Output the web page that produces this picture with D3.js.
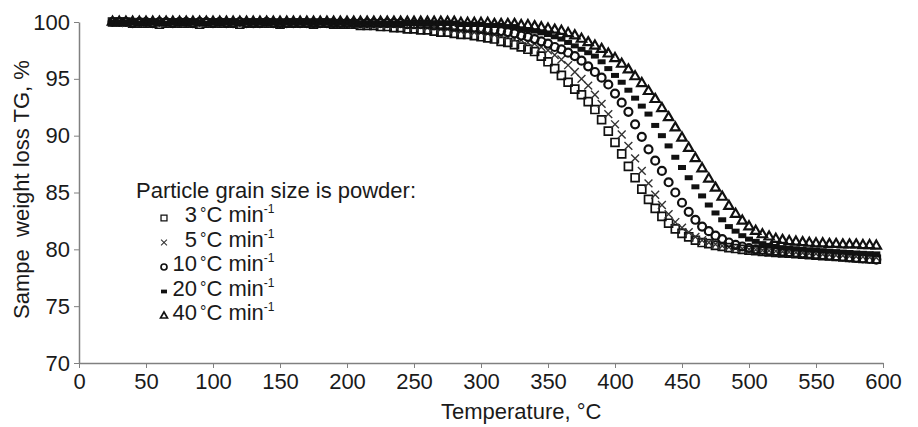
<!DOCTYPE html>
<html>
<head>
<meta charset="utf-8">
<script src="https://cdn.jsdelivr.net/npm/d3@7"></script>
<style>
  body { margin: 0; background: #fff; }
  text { font-family: "Liberation Sans", Arial, sans-serif; fill: #1a1a1a; }
</style>
</head>
<body>
<svg id="chart"></svg>
<script>
// temperature grid, deg C
const temps = [
  25, 30, 35, 40, 45, 50, 55, 60, 65, 70, 75,
  80, 85, 90, 95, 100, 105, 110, 115, 120, 125,
  130, 135, 140, 145, 150, 155, 160, 165, 170, 175,
  180, 185, 190, 195, 200, 205, 210, 215, 220, 225,
  230, 235, 240, 245, 250, 255, 260, 265, 270, 275,
  280, 285, 290, 295, 300, 305, 310, 315, 320, 325,
  330, 335, 340, 345, 350, 355, 360, 365, 370, 375,
  380, 385, 390, 395, 400, 405, 410, 415, 420, 425,
  430, 435, 440, 445, 450, 455, 460, 465, 470, 475,
  480, 485, 490, 495, 500, 505, 510, 515, 520, 525,
  530, 535, 540, 545, 550, 555, 560, 565, 570, 575,
  580, 585, 590, 595
];

// weight, % for each heating rate
const tg3 = [
  100.0, 100.0, 100.0, 99.9, 99.9, 99.9, 99.9, 99.8, 99.9, 99.9, 99.9,
  99.9, 99.9, 99.8, 99.9, 99.9, 99.9, 99.9, 99.9, 99.8, 99.9,
  99.9, 99.9, 99.9, 99.9, 99.8, 99.9, 99.9, 99.9, 99.9, 99.8,
  99.9, 99.9, 99.8, 99.8, 99.8, 99.8, 99.7, 99.7, 99.7, 99.6,
  99.6, 99.5, 99.5, 99.4, 99.4, 99.3, 99.3, 99.2, 99.1, 99.1,
  99.0, 98.9, 98.9, 98.8, 98.7, 98.6, 98.5, 98.3, 98.2, 98.0,
  97.8, 97.6, 97.4, 97.0, 96.5, 95.9, 95.3, 94.7, 94.1, 93.6,
  93.0, 92.3, 91.4, 90.4, 89.4, 88.4, 87.3, 86.3, 85.3, 84.4,
  83.6, 82.9, 82.3, 81.8, 81.4, 81.1, 80.8, 80.6, 80.5, 80.35,
  80.25, 80.15, 80.07, 80.0, 79.93, 79.87, 79.82, 79.77, 79.73, 79.69,
  79.65, 79.61, 79.57, 79.53, 79.49, 79.45, 79.41, 79.37, 79.33, 79.29,
  79.25, 79.21, 79.17, 79.13
];
const tg5 = [
  100.0, 100.0, 99.9, 99.9, 100.0, 99.9, 99.9, 99.9, 99.9, 99.9, 99.9,
  99.9, 99.9, 99.9, 99.9, 99.9, 99.9, 99.9, 99.9, 99.9, 99.9,
  99.9, 99.9, 99.9, 99.9, 99.9, 99.9, 99.9, 99.9, 99.9, 99.9,
  99.9, 99.9, 99.9, 99.9, 99.9, 99.8, 99.8, 99.8, 99.8, 99.8,
  99.7, 99.7, 99.7, 99.6, 99.6, 99.6, 99.5, 99.5, 99.4, 99.4,
  99.3, 99.2, 99.2, 99.1, 99.1, 99.0, 98.9, 98.8, 98.7, 98.5,
  98.4, 98.2, 98.1, 97.8, 97.5, 97.1, 96.7, 96.2, 95.6, 95.0,
  94.4, 93.6, 92.8, 91.9, 91.0, 90.1, 89.1, 88.0, 86.9, 85.8,
  84.8, 83.9, 83.1, 82.4, 81.9, 81.5, 81.1, 80.8, 80.6, 80.45,
  80.3, 80.2, 80.1, 80.05, 80.0, 79.96, 79.92, 79.88, 79.84, 79.8,
  79.76, 79.72, 79.68, 79.64, 79.6, 79.56, 79.52, 79.48, 79.44, 79.4,
  79.36, 79.33, 79.3, 79.27
];
const tg10 = [
  100.0, 100.0, 100.0, 99.9, 100.0, 100.0, 99.9, 100.0, 100.0, 99.9, 100.0,
  100.0, 99.9, 100.0, 100.0, 99.9, 100.0, 99.9, 99.9, 100.0, 99.9,
  99.9, 99.9, 100.0, 99.9, 99.9, 99.9, 99.9, 99.9, 99.9, 99.9,
  99.9, 99.9, 99.9, 99.9, 99.9, 99.9, 99.9, 99.9, 99.9, 99.9,
  99.9, 99.9, 99.9, 99.8, 99.8, 99.8, 99.8, 99.7, 99.7, 99.7,
  99.6, 99.6, 99.5, 99.5, 99.4, 99.3, 99.3, 99.2, 99.1, 99.0,
  98.8, 98.7, 98.5, 98.3, 98.1, 97.8, 97.6, 97.3, 97.0, 96.6,
  96.1, 95.6, 95.1, 94.5, 93.7, 92.9, 92.1, 91.0, 89.9, 88.8,
  87.8, 86.9, 85.9, 85.0, 84.1, 83.3, 82.6, 82.0, 81.6, 81.2,
  80.9, 80.6, 80.4, 80.25, 80.1, 80.0, 79.95, 79.9, 79.85, 79.8,
  79.75, 79.7, 79.65, 79.6, 79.55, 79.5, 79.45, 79.4, 79.35, 79.3,
  79.25, 79.2, 79.15, 79.1
];
const tg20 = [
  100.0, 100.0, 100.0, 100.0, 99.9, 100.0, 100.0, 100.0, 99.9, 100.0, 100.0,
  100.0, 100.0, 100.0, 99.9, 100.0, 100.0, 100.0, 100.0, 99.9, 100.0,
  100.0, 100.0, 100.0, 100.0, 99.9, 100.0, 100.0, 100.0, 100.0, 99.9,
  100.0, 100.0, 99.9, 100.0, 99.9, 99.9, 99.9, 99.9, 99.9, 99.9,
  99.9, 99.9, 99.9, 99.9, 99.9, 99.9, 99.9, 99.9, 99.9, 99.9,
  99.9, 99.8, 99.8, 99.8, 99.8, 99.7, 99.7, 99.7, 99.6, 99.6,
  99.4, 99.3, 99.2, 99.05, 98.9, 98.7, 98.5, 98.2, 97.9, 97.6,
  97.3, 97.0, 96.5, 95.9, 95.3, 94.7, 94.0, 93.3, 92.6, 91.9,
  90.9, 90.0, 89.1, 88.1, 87.2, 86.3, 85.5, 84.7, 83.9, 83.2,
  82.6, 82.0, 81.6, 81.2, 80.9, 80.7, 80.5, 80.35, 80.25, 80.15,
  80.1, 80.05, 80.0, 79.96, 79.92, 79.88, 79.84, 79.8, 79.76, 79.72,
  79.68, 79.65, 79.62, 79.6
];
const tg40 = [
  100.0, 100.0, 100.0, 100.0, 100.0, 100.0, 100.0, 100.0, 100.0, 100.0, 100.0,
  100.0, 100.0, 100.0, 100.0, 100.0, 100.0, 100.0, 100.0, 100.0, 100.0,
  100.0, 100.0, 100.0, 100.0, 100.0, 100.0, 100.0, 100.0, 100.0, 100.0,
  100.0, 100.0, 100.0, 100.0, 100.0, 100.0, 100.0, 100.0, 100.0, 100.0,
  100.0, 100.0, 100.0, 100.0, 100.0, 100.0, 100.0, 100.0, 100.0, 100.0,
  100.0, 99.9, 99.9, 99.9, 99.9, 99.9, 99.8, 99.8, 99.8, 99.8,
  99.7, 99.7, 99.6, 99.5, 99.4, 99.3, 99.2, 99.0, 98.8, 98.5,
  98.2, 97.9, 97.6, 97.2, 96.8, 96.3, 95.8, 95.2, 94.6, 93.9,
  93.2, 92.4, 91.6, 90.7, 89.8, 88.9, 88.0, 87.1, 86.2, 85.4,
  84.6, 83.8, 83.1, 82.5, 82.0, 81.6, 81.3, 81.1, 80.9, 80.8,
  80.7, 80.65, 80.6, 80.55, 80.5, 80.5, 80.45, 80.45, 80.4, 80.4,
  80.4, 80.35, 80.35, 80.3
];

const rateLabels = ["3", "5", "10", "20", "40"];
const xTicks = [0, 50, 100, 150, 200, 250, 300, 350, 400, 450, 500, 550, 600];
const yTicks = [70, 75, 80, 85, 90, 95, 100];

const width = 918, height = 427;
const margin = { left: 79, right: 35, top: 22, bottom: 64 };
const fontSize = 22;

const svg = d3.select("#chart")
  .attr("width", width)
  .attr("height", height);

const x = d3.scaleLinear().domain([0, 600]).range([margin.left, width - margin.right]);
const y = d3.scaleLinear().domain([70, 100]).range([height - margin.bottom, margin.top]);

// axes
const xAxis = svg.append("g")
  .attr("transform", `translate(0,${y(70)})`)
  .call(d3.axisBottom(x).tickValues(xTicks).tickSize(5).tickPadding(5).tickSizeOuter(0));
const yAxis = svg.append("g")
  .attr("transform", `translate(${x(0)},0)`)
  .call(d3.axisLeft(y).tickValues(yTicks).tickSize(5).tickPadding(4).tickSizeOuter(0));

[xAxis, yAxis].forEach(a => {
  a.select(".domain").attr("stroke", "#808080").attr("stroke-width", 1.5);
  a.selectAll(".tick line").attr("stroke", "#808080").attr("stroke-width", 1);
  a.selectAll(".tick text")
    .attr("font-size", fontSize)
    .attr("font-family", "Liberation Sans, Arial, sans-serif")
    .attr("fill", "#1a1a1a");
});

// axis titles
svg.append("text")
  .attr("x", x(330))
  .attr("y", 419)
  .attr("text-anchor", "middle")
  .attr("font-size", fontSize)
  .text("Temperature, °C");

svg.append("text")
  .attr("transform", `translate(29,${y(85) - 3}) rotate(-90)`)
  .attr("text-anchor", "middle")
  .attr("font-size", fontSize)
  .style("white-space", "pre")
  .text("Sampe  weight loss TG, %");

// marker drawing per series
const sym = d3.symbol();
const markers = [
  { data: tg3, draw: g => g.append("path").attr("d", sym.type(d3.symbolSquare2).size(80)())
      .attr("fill", "none").attr("stroke", "#111").attr("stroke-width", 1.7) },
  { data: tg5, draw: g => g.append("path").attr("d", sym.type(d3.symbolTimes).size(42)())
      .attr("fill", "none").attr("stroke", "#333").attr("stroke-width", 1.4) },
  { data: tg10, draw: g => g.append("path").attr("d", sym.type(d3.symbolCircle).size(50)())
      .attr("fill", "none").attr("stroke", "#111").attr("stroke-width", 2.2) },
  { data: tg20, draw: g => g.append("rect").attr("x", -4).attr("y", -2.5).attr("width", 8).attr("height", 5)
      .attr("fill", "#111") },
  { data: tg40, draw: g => g.append("path").attr("d", sym.type(d3.symbolTriangle2).size(62)())
      .attr("fill", "none").attr("stroke", "#111").attr("stroke-width", 2.2) }
];

markers.forEach(m => {
  const pts = svg.append("g").selectAll("g")
    .data(temps.map((t, i) => [t, m.data[i]]))
    .enter()
    .append("g")
    .attr("transform", d => `translate(${x(d[0])},${y(d[1])})`);
  m.draw(pts);
});

// legend
const legend = svg.append("g");
legend.append("text")
  .attr("x", 136)
  .attr("y", 198)
  .attr("font-size", fontSize)
  .text("Particle grain size is powder:");

const rows = legend.selectAll(".row")
  .data(rateLabels)
  .enter()
  .append("g")
  .attr("class", "row")
  .attr("transform", (d, i) => `translate(0,${222 + i * 24.5})`);

rows.each(function (d, i) {
  const g = d3.select(this).append("g").attr("transform", "translate(164,-4)");
  markers[i].draw(g);
  g.selectAll("path, rect").attr("transform", "scale(0.75)");
});

rows.append("text")
  .attr("x", 197)
  .attr("text-anchor", "end")
  .attr("font-size", fontSize)
  .text(d => d);

const unit = rows.append("text")
  .attr("x", 200)
  .attr("font-size", fontSize);
unit.append("tspan").attr("font-size", 16).attr("dy", -3).text("°");
unit.append("tspan").attr("dy", 3).text("C min");
unit.append("tspan").attr("font-size", 12).attr("dy", -9).text("-1");
</script>
</body>
</html>
